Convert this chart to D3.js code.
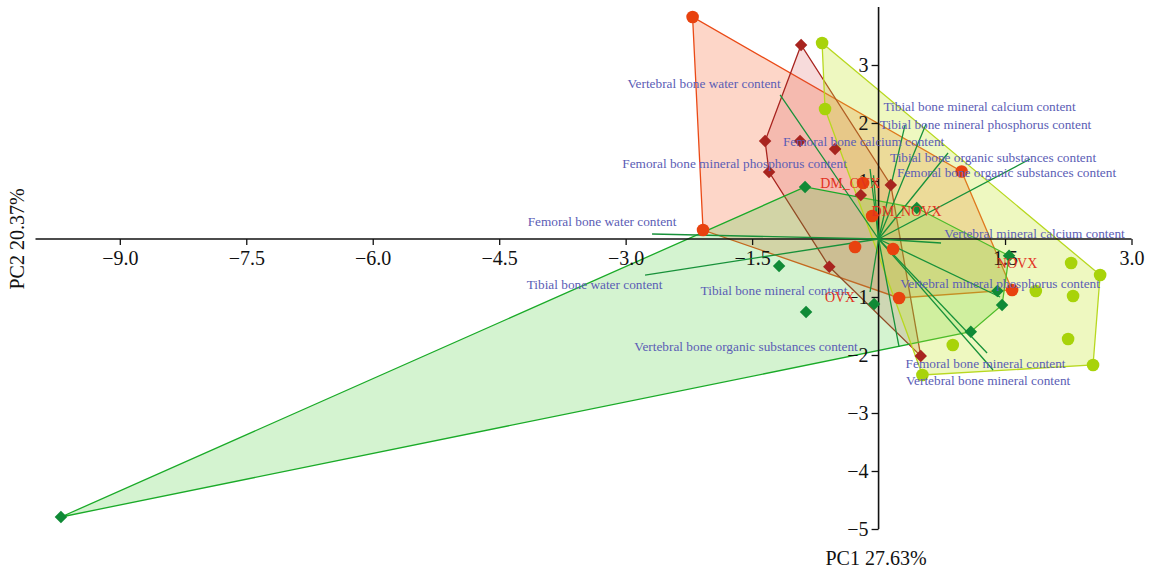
<!DOCTYPE html>
<html>
<head>
<meta charset="utf-8">
<script src="https://cdn.jsdelivr.net/npm/d3@7"></script>
<style>
  html, body { margin: 0; padding: 0; background: #fff; }
  svg { display: block; font-family: "Liberation Serif", "DejaVu Serif", serif; }
</style>
</head>
<body>
<svg id="chart" width="1149" height="571"></svg>
<script>
// ---- data ----
const xTicks = [-9.0, -7.5, -6.0, -4.5, -3.0, -1.5, 1.5, 3.0];
const yTicks = [-5, -4, -3, -2, -1, 1, 2, 3];
const xTitle = "PC1 27.63%";
const yTitle = "PC2 20.37%";

// group scores [PC1, PC2]
const orangeCircles = [[-2.206, 3.828], [-2.082, 0.155], [-0.184, 0.966], [-0.077, 0.397], [-0.279, -0.138],
  [0.172, -0.172], [0.243, -1.017], [0.985, 1.164], [1.584, -0.879]];
const redDiamonds = [[-0.919, 3.345], [-1.346, 1.69], [-0.931, 1.69], [-0.516, 1.552], [-1.299, 1.155],
  [0.145, 0.931], [-0.211, 0.759], [-0.584, -0.478], [0.5, -2.017]];
const greenDiamonds = [[-9.698, -4.793], [-0.872, 0.897], [-1.18, -0.466], [-0.86, -1.259], [-0.053, -1.121],
  [0.453, 0.534], [1.548, -0.288], [1.409, -0.897], [1.465, -1.138], [1.094, -1.598]];
const yellowCircles = [[-0.67, 3.379], [-0.635, 2.241], [2.284, -0.414], [2.628, -0.621], [1.865, -0.897],
  [2.307, -0.983], [2.248, -1.724], [2.544, -2.172], [0.88, -1.828], [0.52, -2.345]];

// group labels [name, PC1, PC2]
const groupLabels = [["DM_OVX", -0.338, 0.966], ["DM_NOVX", 0.332, 0.483], ["NOVX", 1.643, -0.414], ["OVX", -0.457, -1.0]];

// loadings: name, arrow end (PC1, PC2), label position (PC1, PC2)
const loadingNames = ["Vertebral bone water content", "Tibial bone mineral calcium content",
  "Tibial bone mineral phosphorus content", "Femoral bone calcium content",
  "Femoral bone mineral phosphorus content", "Tibial bone organic substances content",
  "Femoral bone organic substances content", "Femoral bone water content",
  "Vertebral mineral calcium content", "Tibial bone water content", "Tibial bone mineral content",
  "Vertebral mineral phosphorus content", "Vertebral bone organic substances content",
  "Femoral bone mineral content", "Vertebral bone mineral content"];
const loadingEnds = [[-1.168, 2.483], [0.314, 1.966], [0.563, 1.983], [-0.06, 1.10], [-0.101, 1.207],
  [0.824, 1.483], [1.797, 1.379], [-2.687, 0.086], [0.741, -0.069], [-2.77, -0.621], [-0.101, -0.914],
  [1.441, -1.0], [0.243, -1.862], [1.287, -1.966], [1.358, -2.259]];
const loadingLabelPos = [[-2.07, 2.69], [1.198, 2.293], [1.269, 1.983], [-0.178, 1.69], [-1.708, 1.31],
  [1.358, 1.414], [1.518, 1.155], [-3.28, 0.31], [1.85, 0.103], [-3.369, -0.776], [-1.24, -0.879],
  [1.441, -0.759], [-1.572, -1.845], [1.269, -2.138], [1.299, -2.431]];

// ---- drawing ----
const svg = d3.select("#chart");
const x = d3.scaleLinear().domain([-10, 3]).range([35.5, 1131.5]);
const y = d3.scaleLinear().domain([-5, 4]).range([529, 7]);

const groups = [
  { pts: orangeCircles, shape: "circle", color: "#e8420f", stroke: "#ea4a16", fill: "#f96a3a", op: 0.28 },
  { pts: redDiamonds, shape: "diamond", color: "#a8241f", stroke: "#a8241f", fill: "#d84a4a", op: 0.2 },
  { pts: greenDiamonds, shape: "diamond", color: "#0f8a36", stroke: "#1aaa28", fill: "#4ccc3a", op: 0.24 },
  { pts: yellowCircles, shape: "circle", color: "#a8d30a", stroke: "#b8d820", fill: "#c8e830", op: 0.3 }
];

// hulls
const hullG = svg.append("g");
groups.forEach(g => {
  const hull = d3.polygonHull(g.pts.map(p => [x(p[0]), y(p[1])]));
  hullG.append("path")
    .attr("d", "M" + hull.join("L") + "Z")
    .attr("fill", g.fill).attr("fill-opacity", g.op)
    .attr("stroke", g.stroke).attr("stroke-width", 1.3);
});

// axes crossing at origin
const xAxis = d3.axisBottom(x).tickValues(xTicks).tickFormat(d3.format(".1f")).tickSize(6).tickPadding(6);
const gx = svg.append("g").attr("transform", `translate(0,${y(0)})`).call(xAxis);
const yAxis = d3.axisLeft(y).tickValues(yTicks).tickFormat(d3.format("d")).tickSize(7).tickPadding(3);
const gy = svg.append("g").attr("transform", `translate(${x(0)},0)`).call(yAxis);
[gx, gy].forEach(g => {
  g.select(".domain").attr("stroke", "#111").attr("stroke-width", 1.6);
  g.selectAll(".tick line").attr("stroke", "#111").attr("stroke-width", 1.3);
  g.selectAll(".tick text").attr("fill", "#111").style("font-size", "20px")
    .style("font-family", "'Liberation Serif', serif");
});
gx.select(".domain").attr("d", `M${x(-10)},0H${x(3)}`);
gy.select(".domain").attr("d", `M0,${y(4)}V${y(-5)}`);

// loading lines
const lineG = svg.append("g");
loadingEnds.forEach(e => {
  lineG.append("line")
    .attr("x1", x(0)).attr("y1", y(0)).attr("x2", x(e[0])).attr("y2", y(e[1]))
    .attr("stroke", "#17913a").attr("stroke-width", 1.3);
});

// points
const ptG = svg.append("g");
groups.forEach(g => {
  g.pts.forEach(p => {
    if (g.shape === "circle") {
      ptG.append("circle").attr("cx", x(p[0])).attr("cy", y(p[1])).attr("r", 6.3).attr("fill", g.color);
    } else {
      ptG.append("path").attr("d", d3.symbol(d3.symbolSquare, 78)())
        .attr("transform", `translate(${x(p[0])},${y(p[1])}) rotate(45)`)
        .attr("fill", g.color);
    }
  });
});

// loading labels
const labG = svg.append("g");
loadingNames.forEach((n, i) => {
  labG.append("text")
    .attr("x", x(loadingLabelPos[i][0])).attr("y", y(loadingLabelPos[i][1]))
    .attr("text-anchor", "middle").attr("dy", "0.35em")
    .attr("fill", "#5b5db5").style("font-size", "13.3px").text(n);
});

// group labels
groupLabels.forEach(d => {
  svg.append("text")
    .attr("x", x(d[1])).attr("y", y(d[2]))
    .attr("text-anchor", "middle").attr("dy", "0.35em")
    .attr("fill", "#e2321f").style("font-size", "14px").text(d[0]);
});

// titles
svg.append("text").attr("x", 876).attr("y", 565).attr("text-anchor", "middle")
  .attr("fill", "#111").style("font-size", "20px").text(xTitle);
svg.append("text").attr("transform", "translate(24,239) rotate(-90)").attr("text-anchor", "middle")
  .attr("fill", "#111").style("font-size", "20px").text(yTitle);
</script>
</body>
</html>
